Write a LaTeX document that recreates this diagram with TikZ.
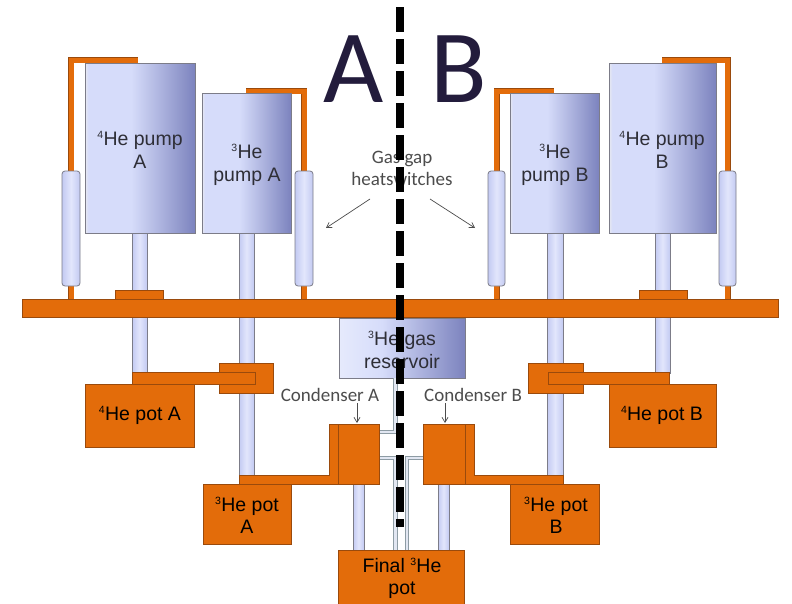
\documentclass[tikz,border=0pt]{standalone}
\usepackage{fontspec}
\setmainfont{Liberation Sans}
\newfontfamily\calib{Carlito}
\usetikzlibrary{arrows.meta}

% small raised mass number in front of an element symbol
\newcommand\massno[1]{\raisebox{0.36em}{\fontsize{10.5}{10.5}\selectfont #1}\kern0.3pt}

% colours
\definecolor{heorange}{HTML}{E36C0A}
\definecolor{orangeedge}{HTML}{9A4A0C}
\definecolor{pumpedge}{HTML}{7C7C88}
\definecolor{pumplight}{HTML}{D6DCFA}
\definecolor{pumpdark}{HTML}{7C83BE}
\definecolor{pumprim}{HTML}{E8E9F0}
\definecolor{reslight}{HTML}{E6EAFC}
\definecolor{stemfill}{HTML}{C3CAF2}
\definecolor{stemhi}{HTML}{E2E6FC}
\definecolor{pipefill}{HTML}{E2E7F2}
\definecolor{pipeedge}{HTML}{8E9CA4}
\definecolor{labelgray}{HTML}{4C4C4C}
\definecolor{textdark}{HTML}{2E2E36}
\definecolor{abnavy}{HTML}{231C3C}

% shadings (the path is fitted to the 25bp--75bp band)
\pgfdeclarehorizontalshading{pumpshade}{100bp}{color(0bp)=(pumprim); color(25bp)=(pumprim); color(26.5bp)=(pumplight); color(46bp)=(pumplight); color(75bp)=(pumpdark); color(100bp)=(pumpdark)}
\pgfdeclarehorizontalshading{resshade}{100bp}{color(0bp)=(reslight); color(25bp)=(reslight); color(42bp)=(pumplight); color(75bp)=(pumpdark); color(100bp)=(pumpdark)}
\pgfdeclarehorizontalshading{stemshade}{100bp}{color(0bp)=(stemfill); color(25bp)=(stemfill); color(50bp)=(stemhi); color(75bp)=(stemfill); color(100bp)=(stemfill)}

\tikzset{
  pump/.style={draw=pumpedge, line width=0.8pt, shading=pumpshade},
  reservoir/.style={draw=pumpedge, line width=0.8pt, shading=resshade},
  stemtube/.style={draw=pumpedge, line width=0.7pt, shading=stemshade},
  switchtube/.style={draw=pumpedge, line width=0.8pt, shading=stemshade, rounded corners=3pt},
  orangepart/.style={draw=orangeedge, line width=0.6pt, fill=heorange},
  orangepipe/.style={draw=orangeedge, line width=0.5pt, double=heorange, double distance=5pt},
  gaspipe/.style={draw=pipeedge, line width=0.9pt, double=pipefill, double distance=2.6pt},
  callout/.style={draw=labelgray, line width=0.7pt, -{Straight Barb[length=5pt,width=6pt]}},
  divider/.style={draw=black, line width=7.5pt, dash pattern=on 25pt off 7pt},
  pumptext/.style={align=center, text=textdark, inner sep=0pt, font=\fontsize{19.5}{23}\selectfont},
  pottext/.style={align=center, text=black, inner sep=0pt, font=\fontsize{19.5}{22}\selectfont},
  notetext/.style={align=center, text=labelgray, inner sep=0pt, font=\calib\fontsize{19}{22}\selectfont},
  sidetext/.style={anchor=base, text=abnavy, inner sep=0pt, font=\calib\fontsize{104}{104}\selectfont}
}

\begin{document}
\begin{tikzpicture}[x=1pt, y=-1pt]
\useasboundingbox[fill=white] (0,0) rectangle (792,603);

% copper straps from the heat switches
\draw[orangepipe] (71,172) |- (138,60);
\draw[orangepipe] (71,285) -- (71,300);
\draw[orangepipe] (304,172) |- (246,91);
\draw[orangepipe] (304,285) -- (304,300);
\draw[orangepipe] (496.5,172) |- (554,91);
\draw[orangepipe] (496.5,285) -- (496.5,300);
\draw[orangepipe] (727.5,172) |- (662,60);
\draw[orangepipe] (727.5,285) -- (727.5,300);

% pumping tubes
\path[stemtube] (132,230) rectangle (147,373);
\path[stemtube] (239,230) rectangle (254,476);
\path[stemtube] (547,230) rectangle (563,476);
\path[stemtube] (655,230) rectangle (670,373);

% sorption pumps
\path[pump] (85,63) rectangle (195,233);
\path[pump] (202,93) rectangle (291,233);
\path[pump] (510,93) rectangle (599,233);
\path[pump] (609,63) rectangle (716,233);

% gas gap heat switches
\path[switchtube] (62,171) rectangle (80,286);
\path[switchtube] (295,171) rectangle (313,286);
\path[switchtube] (488,171) rectangle (505,286);
\path[switchtube] (719,171) rectangle (736,286);

% mounting plate
\path[orangepart] (115,290) rectangle (163,299.5);
\path[orangepart] (639,290) rectangle (687,299.5);
\path[orangepart] (22,299) rectangle (778,317);

% 3He gas reservoir
\path[reservoir] (339,318) rectangle (465,378);

% gas lines
\draw[gaspipe] (395.5,378) |- (379,432);
\draw[gaspipe] (379,458) -| (395.5,551);
\draw[gaspipe] (423,458) -| (407,551);

% condenser tubes to the final pot
\path[stemtube] (353,483) rectangle (364,551);
\path[stemtube] (438,483) rectangle (449,551);

% side A cold stages
\path[orangepart] (219,363) rectangle (273,393);
\path[orangepart] (132,372) rectangle (255,384);
\path[orangepart] (85,384) rectangle (194,447);
\path[orangepart] (239,475) -- (329,475) -- (329,424) -- (338,424) -- (338,484) -- (239,484) -- cycle;
\path[orangepart] (338,424) rectangle (379,484);
\path[orangepart] (203,484) rectangle (291,544);

% side B cold stages
\path[orangepart] (528,363) rectangle (583,393);
\path[orangepart] (548,372) rectangle (669,384);
\path[orangepart] (609,384) rectangle (716,447);
\path[orangepart] (563,475) -- (474,475) -- (474,424) -- (465,424) -- (465,484) -- (563,484) -- cycle;
\path[orangepart] (423,424) rectangle (465,484);
\path[orangepart] (510,484) rectangle (599,544);

% final pot
\path[orangepart] (338,550) rectangle (464,612);

% labels
\node[pumptext] (lp4a) at (140,150) {\massno{4}He pump\\A};
\node[pumptext] (lp3a) at (247,165) {\massno{3}He\\pump A};
\node[pumptext] (lp3b) at (555,165) {\massno{3}He\\pump B};
\node[pumptext] (lp4b) at (662,150) {\massno{4}He pump\\B};
\node[pumptext] (lres) at (402,350) {\massno{3}He gas\\reservoir};
\node[pottext] (lpot4a) at (140,415) {\massno{4}He pot A};
\node[pottext] (lpot4b) at (662,415) {\massno{4}He pot B};
\node[pottext] (lpot3a) at (247,515) {\massno{3}He pot\\A};
\node[pottext] (lpot3b) at (556,515) {\massno{3}He pot\\B};
\node[pottext] (lfinal) at (402,578) {Final \massno{3}He\\pot};

\node[notetext] (lgap) at (402,168) {Gas gap\\heatswitches};
\node[notetext, anchor=base] (lconda) at (330,401) {Condenser A};
\node[notetext, anchor=base] (lcondb) at (473,401) {Condenser B};

% callout arrows
\coordinate (swa) at (326,228);
\coordinate (swb) at (475,228);
\coordinate (cna) at (357,423);
\coordinate (cnb) at (445,423);
\draw[callout] (370,199) -- (swa);
\draw[callout] (430,199) -- (swb);
\draw[callout] (357,403) -- (cna);
\draw[callout] (445,403) -- (cnb);

% dividing line between the two sides
\coordinate (divtop) at (400,7);
\coordinate (divbot) at (400,527);
\draw[divider] (divtop) -- (divbot);

\node[sidetext] (sidea) at (353.5,102) {A};
\node[sidetext] (sideb) at (458.5,102) {B};
\end{tikzpicture}
\end{document}
